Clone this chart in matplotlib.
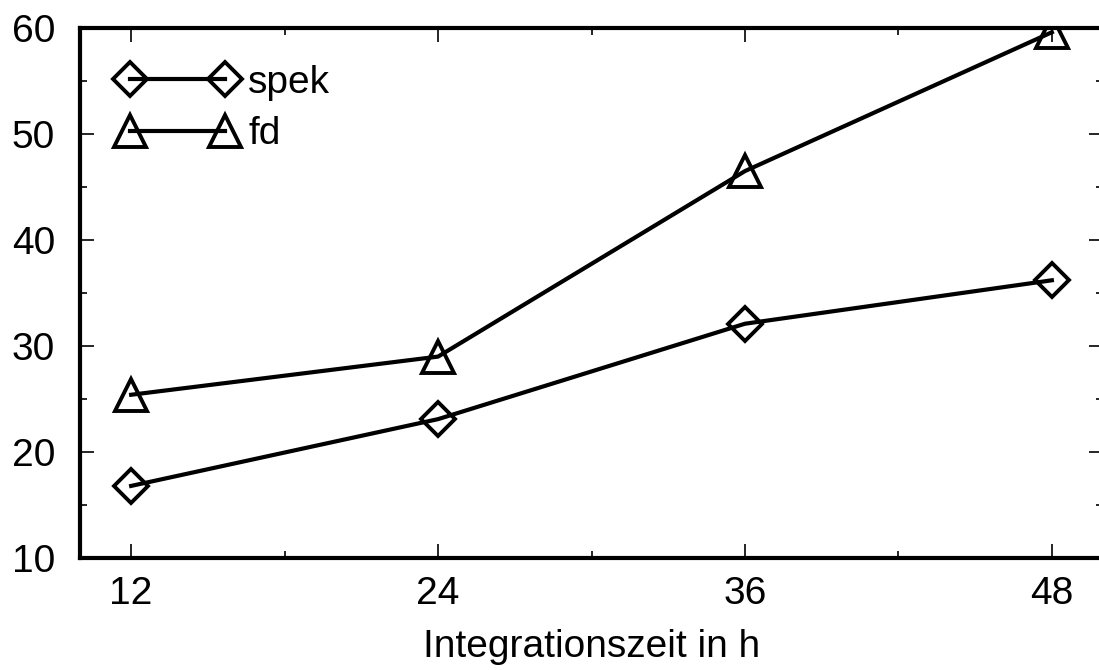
import numpy as np
import matplotlib
matplotlib.use("Agg")
import matplotlib.pyplot as plt
from matplotlib.ticker import MultipleLocator

plt.rcParams['font.family'] = ['Liberation Sans', 'DejaVu Sans']

# data
hours = [12, 24, 36, 48]
spek = [16.8, 23.1, 32.1, 36.2]
fd = [25.4, 29.0, 46.5, 59.6]
xlabel = "Integrationszeit in h"

fig = plt.figure(figsize=(10.99, 6.70), dpi=100)
# axes runs slightly past the right edge like in the scan
ax = fig.add_axes([80 / 1099, (670 - 558) / 670, 1023 / 1099, 530 / 670])

lw = 3.0
ax.plot(hours, spek, color='black', lw=lw, marker='D', ms=17, mfc='none',
        mec='black', mew=2.8, label='spek')
ax.plot(hours, fd, color='black', lw=lw, marker='^', ms=23, mfc='none',
        mec='black', mew=2.8, label='fd')

ax.set_xlim(10, 50)
ax.set_ylim(10, 60)
ax.set_xticks(hours)
ax.xaxis.set_minor_locator(MultipleLocator(6))
ax.yaxis.set_major_locator(MultipleLocator(10))
ax.yaxis.set_minor_locator(MultipleLocator(5))

for s in ax.spines.values():
    s.set_linewidth(3.0)

ax.tick_params(which='both', direction='in', top=True, right=True,
               labelsize=28, width=1.2)
ax.tick_params(which='major', length=10)
ax.tick_params(which='minor', length=5)
ax.tick_params(axis='y', pad=18)
ax.tick_params(axis='x', pad=13)

ax.set_xlabel(xlabel, fontsize=28, labelpad=12)

leg = ax.legend(loc='upper left', frameon=False, numpoints=2, fontsize=28,
                handlelength=3.05, handletextpad=0.3, labelspacing=0.4,
                borderaxespad=0.0, bbox_to_anchor=(0.022, 0.96))

fig.savefig('out.png', dpi=100)
